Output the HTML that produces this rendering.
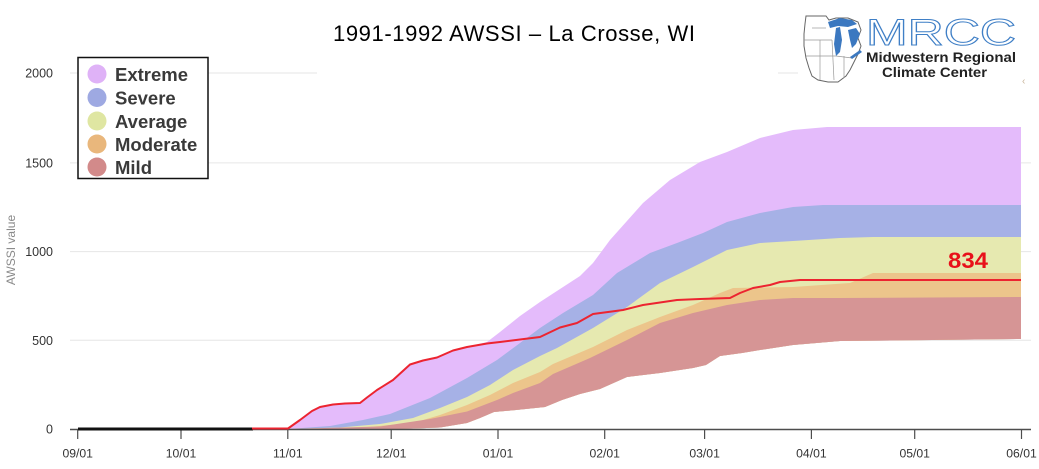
<!DOCTYPE html>
<html>
<head>
<meta charset="utf-8">
<style>
  html,body{margin:0;padding:0;background:#fff;}
  body{width:1039px;height:469px;overflow:hidden;}
  svg{display:block;}
  text{font-family:"Liberation Sans", Arial, sans-serif;}
</style>
</head>
<body>
<svg width="1039" height="469" viewBox="0 0 1039 469" xmlns="http://www.w3.org/2000/svg">
  <rect x="0" y="0" width="1039" height="469" fill="#fff"/>

  <!-- gridlines -->
  <g stroke="#e6e6e6" stroke-width="1">
    <line x1="70" y1="73" x2="317" y2="73"/>
    <line x1="778" y1="73" x2="798" y2="73"/>
    <line x1="70" y1="162.9" x2="1031" y2="162.9"/>
    <line x1="70" y1="251.6" x2="1031" y2="251.6"/>
    <line x1="70" y1="340.3" x2="1031" y2="340.3"/>
  </g>

  <!-- y-axis labels -->
  <g font-size="12.5" fill="#333" text-anchor="end">
    <text x="53" y="77.5">2000</text>
    <text x="53" y="167.4">1500</text>
    <text x="53" y="256">1000</text>
    <text x="53" y="344.8">500</text>
    <text x="53" y="433.5">0</text>
  </g>
  <text transform="translate(15,250) rotate(-90)" font-size="12" fill="#8a8a8a" text-anchor="middle">AWSSI value</text>

  <!-- bands: extreme -->
  <polygon fill="#e4bbfb" points="
    288,428.5 300,420 312,411 320,407 333,404.5 345,403.5 360,403 367,397.5 377,390 393,380 410,364.5 423,360.5 437,357.5 453,350.5 467,347 487,342
    500,332 520,316 540,302 560,289 580,276 593,263 610,240 643,203 670,180 700,162 727,152 760,138 793,130 827,127 1021,127
    1021,339 840,341 793,345 760,350 742,353 720,356 706,365 693,368 660,373 627,377 600,389 580,394 562,400 545,407 516,410 494,412 480,418 467,423 440,427.5 400,429 288,429"/>
  <!-- severe -->
  <polygon fill="#a6b1e6" points="
    288,429 330,426 363,420 390,414 430,398 467,378 497,360 520,343 540,328 563,313 593,295 617,273 650,253 677,243 703,233 727,222 760,213 793,207 823,205 1021,205
    1021,339 840,341 793,345 760,350 742,353 720,356 706,365 693,368 660,373 627,377 600,389 580,394 562,400 545,407 516,410 494,412 480,418 467,423 440,427.5 400,429 288,429"/>
  <!-- average -->
  <polygon fill="#e6e9b0" points="
    288,429 340,427.5 380,424 413,418 440,408 467,397 490,385 513,370 540,356 557,348 593,328 627,307 660,283 693,267 727,250 760,243 793,241 840,238 873,237 1021,237
    1021,339 840,341 793,345 760,350 742,353 720,356 706,365 693,368 660,373 627,377 600,389 580,394 562,400 545,407 516,410 494,412 480,418 467,423 440,427.5 400,429 288,429"/>
  <!-- moderate -->
  <polygon fill="#ecc58b" points="
    288,429 350,428.5 413,423 440,415 467,405 490,395 513,383 540,372 553,364 593,347 627,330 660,317 693,305 720,293 733,288 793,287 850,283 873,273 1021,273
    1021,339 840,341 793,345 760,350 742,353 720,356 706,365 693,368 660,373 627,377 600,389 580,394 562,400 545,407 516,410 494,412 480,418 467,423 440,427.5 400,429 288,429"/>
  <!-- mild -->
  <polygon fill="#d69595" points="
    288,429 380,426.5 430,419 467,411.5 497,400 513,393 540,383 553,374 590,358 627,340 660,323 693,313 727,305 760,300 793,298 840,298 1021,297
    1021,339 840,341 793,345 760,350 742,353 720,356 706,365 693,368 660,373 627,377 600,389 580,394 562,400 545,407 516,410 494,412 480,418 467,423 440,427.5 400,429 288,429"/>

  <!-- x axis -->
  <line x1="70" y1="429.5" x2="1031" y2="429.5" stroke="#4d4d4d" stroke-width="1.5"/>
  <g stroke="#4d4d4d" stroke-width="1.2">
    <line x1="77.7" y1="429" x2="77.7" y2="439"/>
    <line x1="181" y1="429" x2="181" y2="439"/>
    <line x1="287.8" y1="429" x2="287.8" y2="439"/>
    <line x1="391.2" y1="429" x2="391.2" y2="439"/>
    <line x1="498" y1="429" x2="498" y2="439"/>
    <line x1="604.7" y1="429" x2="604.7" y2="439"/>
    <line x1="704.6" y1="429" x2="704.6" y2="439"/>
    <line x1="811.4" y1="429" x2="811.4" y2="439"/>
    <line x1="914.7" y1="429" x2="914.7" y2="439"/>
    <line x1="1021.5" y1="429" x2="1021.5" y2="439"/>
  </g>
  <g font-size="12.2" fill="#333" text-anchor="middle">
    <text x="77.7" y="457.5">09/01</text>
    <text x="181" y="457.5">10/01</text>
    <text x="287.8" y="457.5">11/01</text>
    <text x="391.2" y="457.5">12/01</text>
    <text x="498" y="457.5">01/01</text>
    <text x="604.7" y="457.5">02/01</text>
    <text x="704.6" y="457.5">03/01</text>
    <text x="811.4" y="457.5">04/01</text>
    <text x="914.7" y="457.5">05/01</text>
    <text x="1021.5" y="457.5">06/01</text>
  </g>

  <!-- data line -->
  <line x1="78" y1="429" x2="253" y2="429" stroke="#111" stroke-width="3"/>
  <polyline fill="none" stroke="#ec2430" stroke-width="2" stroke-linejoin="round" points="
    252,428.5 288,428.5 300,420 312,411 320,407 333,404.5 345,403.5 360,403 367,397.5 377,390 393,380 410,364.5 423,360.5 437,357.5 453,350.5 467,347 487,343.5 500,342 520,339.5 540,337 560,327.5 577,323 593,314 623,310 643,305 677,300 700,299 730,298 740,293 753,288 770,285 780,282 800,280 1021,280"/>

  <text x="948" y="268" font-size="22" font-weight="bold" fill="#e8101a" textLength="40" lengthAdjust="spacingAndGlyphs">834</text>

  <!-- legend -->
  <rect x="78" y="57.5" width="130" height="121" fill="#fff" stroke="#111" stroke-width="1.5"/>
  <g>
    <circle cx="97" cy="74" r="9.5" fill="#dfb2f7"/>
    <circle cx="97" cy="97.5" r="9.5" fill="#9ea9e2"/>
    <circle cx="97" cy="121" r="9.5" fill="#dfe6a2"/>
    <circle cx="97" cy="144" r="9.5" fill="#e9b77c"/>
    <circle cx="97" cy="167" r="9.5" fill="#d28a8a"/>
  </g>
  <g font-size="18.5" font-weight="bold" fill="#3a3a3a">
    <text x="115" y="81">Extreme</text>
    <text x="115" y="104.5">Severe</text>
    <text x="115" y="128">Average</text>
    <text x="115" y="151">Moderate</text>
    <text x="115" y="174">Mild</text>
  </g>

  <!-- title -->
  <text x="333" y="41" font-size="22" fill="#000" textLength="362" lengthAdjust="spacing">1991-1992 AWSSI – La Crosse, WI</text>

  <!-- logo map -->
  <g>
    <polygon fill="#fff" stroke="#666" stroke-width="1" points="806,16 826,16 829,20 836,18 848,18 858,22 861,30 858,38 861,46 858,54 854,62 850,70 846,76 838,82 828,82 818,80 812,76 809,68 806,58 804,46 804,34 805,24"/>
    <g stroke="#999" stroke-width="0.7" fill="none">
      <polyline points="804,40 832,40"/>
      <polyline points="806,56 836,56 852,58"/>
      <polyline points="820,40 820,80"/>
      <polyline points="832,40 834,80"/>
      <polyline points="844,56 844,78"/>
      <polyline points="812,28 826,28"/>
    </g>
    <polygon fill="#3b78c0" points="828,22 840,18 852,20 857,24 848,27 838,26 830,28"/>
    <polygon fill="#3b78c0" points="836,28 840,27 842,40 840,52 836,56 834,44"/>
    <polygon fill="#3b78c0" points="848,30 856,28 860,34 856,44 852,48 850,40"/>
    <polygon fill="#3b78c0" points="850,57 860,50 862,52 852,59"/>
  </g>
  <text x="866" y="45" font-size="37" fill="none" stroke="#3f7fc6" stroke-width="1.0" textLength="150" lengthAdjust="spacingAndGlyphs">MRCC</text>
  <text x="866" y="62" font-size="14" font-weight="bold" fill="#222" textLength="150" lengthAdjust="spacingAndGlyphs">Midwestern Regional</text>
  <text x="882" y="77" font-size="14" font-weight="bold" fill="#222" textLength="105" lengthAdjust="spacingAndGlyphs">Climate Center</text>
  <text x="1022" y="84" font-size="10" fill="#c8b49a">‹</text>
</svg>
</body>
</html>
